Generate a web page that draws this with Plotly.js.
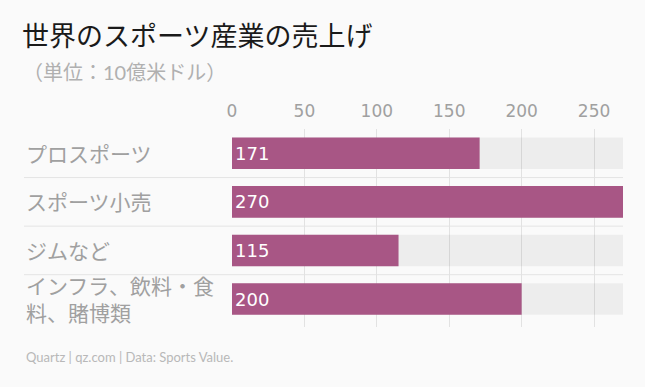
<!DOCTYPE html>
<html>
<head>
<meta charset="utf-8">
<script src="https://cdn.plot.ly/plotly-3.0.1.min.js"></script>
<style>html,body{margin:0;padding:0;background:#fafafa;}#chart{width:645px;height:387px;}</style>
</head>
<body>
<div id="chart"></div>
<script>
var categories = ["プロスポーツ", "スポーツ小売", "ジムなど", "インフラ、飲料・食<br>料、賭博類"];
var values = [171, 270, 115, 200];
var tickVals = [0, 50, 100, 150, 200, 250];
var axisMax = 270;

var FONT = "Lato, 'Noto Sans CJK JP', sans-serif";
var NUMFONT = "'DejaVu Sans', 'Noto Sans CJK JP', sans-serif";
var LEFT = -208/391;
var bgBar = {
  type: 'bar', orientation: 'h',
  x: categories.map(function(){ return axisMax; }),
  y: categories,
  marker: {color: 'rgba(0,0,0,0.05)'},
  width: 0.65, hoverinfo: 'skip'
};
var mainBar = {
  type: 'bar', orientation: 'h',
  x: values, y: categories,
  marker: {color: '#a85685'},
  width: 0.65,
  text: values.map(String),
  textposition: 'inside', insidetextanchor: 'start',
  textfont: {color: '#ffffff', size: 18, family: NUMFONT},
  constraintext: 'none'
};

var annotations = categories.map(function(c){
  return {xref: 'paper', yref: 'y', x: LEFT, y: c, xanchor: 'left', yanchor: 'middle',
    text: c, showarrow: false, align: 'left',
    font: {size: 21, color: '#a0a0a0', family: FONT}};
});
annotations.push({xref: 'paper', yref: 'paper', x: LEFT - 0.008, y: 1, yanchor: 'middle',
  xanchor: 'left', text: '（単位：10億米ドル）', showarrow: false,
  yshift: 129 - 72,
  font: {size: 20, color: '#b0b0b0', family: FONT}});
annotations.push({xref: 'paper', yref: 'paper', x: LEFT, y: 0, yanchor: 'middle',
  xanchor: 'left', text: 'Quartz | qz.com | Data: Sports Value.', showarrow: false,
  yshift: -(357 - 327),
  font: {size: 13, color: '#b8b8b8', family: "'Liberation Sans Narrow', Lato, sans-serif"}});

var shapes = [];
for (var i = 0; i < categories.length - 1; i++) {
  shapes.push({type: 'line', xref: 'paper', yref: 'y', x0: LEFT, x1: 1,
    y0: i + 0.5, y1: i + 0.5, line: {color: '#e4e4e4', width: 1}, layer: 'below'});
}

var layout = {
  width: 645, height: 387,
  paper_bgcolor: '#fafafa', plot_bgcolor: '#fafafa',
  margin: {l: 232, r: 22, t: 129, b: 60},
  barmode: 'overlay',
  showlegend: false,
  font: {family: FONT},
  title: {text: '世界のスポーツ産業の売上げ', xref: 'container', yref: 'container',
    x: 22/645, xanchor: 'left', y: 1 - 37/387, yanchor: 'middle',
    font: {size: 27, color: '#1a1a1a', family: FONT}},
  xaxis: {side: 'top', range: [0, axisMax], tickvals: tickVals, ticks: '',
    showgrid: true, gridcolor: '#e2e2e2', zeroline: false, showline: false,
    ticklabelstandoff: 8,
    tickfont: {size: 17, color: '#a0a0a0', family: NUMFONT}, fixedrange: true},
  yaxis: {type: 'category', autorange: 'reversed', showticklabels: false, ticks: '',
    showgrid: false, zeroline: false, showline: false, fixedrange: true},
  annotations: annotations,
  shapes: shapes
};
Plotly.newPlot('chart', [bgBar, mainBar], layout, {displayModeBar: false, staticPlot: true});
</script>
</body>
</html>
